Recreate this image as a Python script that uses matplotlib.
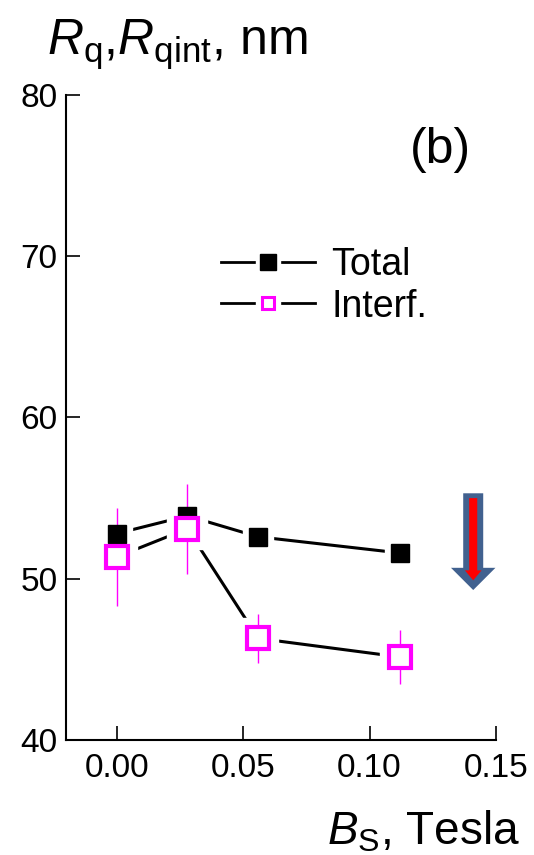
import numpy as np
import matplotlib
matplotlib.use("Agg")
import matplotlib.pyplot as plt
from matplotlib.lines import Line2D
from matplotlib.legend_handler import HandlerTuple

plt.rcParams['font.family'] = ['Liberation Sans', 'DejaVu Sans']
plt.rcParams['mathtext.fontset'] = 'custom'
plt.rcParams['mathtext.rm'] = 'Liberation Sans'
plt.rcParams['mathtext.it'] = 'Liberation Sans:italic'

# field values, Tesla
b_field = [0.0, 0.028, 0.056, 0.112]
# total roughness Rq, nm
rq_total = [52.8, 53.9, 52.6, 51.6]
# interference part Rqint, nm, with error
rq_interf = [51.35, 53.1, 46.3, 45.15]
rq_interf_err = [3.05, 2.8, 1.5, 1.65]

x_ticks = [0.00, 0.05, 0.10, 0.15]
x_ticklabels = ["0.00", "0.05", "0.10", "0.15"]
y_ticks = [40, 50, 60, 70, 80]

magenta = '#ff00ff'

fig = plt.figure(figsize=(5.34, 8.55), dpi=100)
ax = fig.add_axes([0.1236, 0.1345, 0.8052, 0.7544])

# lines first, then white gaps round the markers, then markers
ax.plot(b_field, rq_total, color='black', lw=2.2, zorder=2)
ax.plot(b_field, rq_interf, color='black', lw=2.2, zorder=2)
ax.plot(b_field, rq_total, ls='none', marker='s', ms=21, mfc='white', mec='white', zorder=3)
ax.plot(b_field, rq_interf, ls='none', marker='s', ms=29, mfc='white', mec='white', zorder=3)
ax.errorbar(b_field, rq_interf, yerr=rq_interf_err, fmt='none', ecolor=magenta,
            elinewidth=1.0, capsize=0, zorder=4)
ax.plot(b_field, rq_total, ls='none', marker='s', ms=13, mfc='black', mec='black', zorder=5)
ax.plot(b_field, rq_interf, ls='none', marker='s', ms=16.5, mfc='white', mec=magenta,
        mew=3.0, zorder=6)

ax.set_xlim(-0.02, 0.15)
ax.set_ylim(40, 80)
ax.set_xticks(x_ticks)
ax.set_xticklabels(x_ticklabels, fontsize=24)
ax.set_yticks(y_ticks)
ax.set_yticklabels([str(v) for v in y_ticks], fontsize=24)
ax.tick_params(direction='in', length=10, width=1.2)
ax.tick_params(axis='y', pad=6)
ax.tick_params(axis='x', pad=9)
for side in ['top', 'right']:
    ax.spines[side].set_visible(False)
for side in ['left', 'bottom']:
    ax.spines[side].set_linewidth(1.5)

# legend with gaps around the markers
h_total = (Line2D([], [], color='black', lw=2.0),
           Line2D([], [], ls='none', marker='s', ms=17, mfc='white', mec='white'),
           Line2D([], [], ls='none', marker='s', ms=11, mfc='black', mec='black'))
h_interf = (Line2D([], [], color='black', lw=2.0),
            Line2D([], [], ls='none', marker='s', ms=17, mfc='white', mec='white'),
            Line2D([], [], ls='none', marker='s', ms=8, mfc='white', mec=magenta, mew=2.2))
fig.legend([h_total, h_interf], ['Total', 'Interf.'],
           handler_map={tuple: HandlerTuple(ndivide=1, pad=0)},
           loc='upper left', bbox_to_anchor=(221 / 534, 1 - 247 / 855),
           frameon=False, fontsize=27, handlelength=2.5, handletextpad=0.45,
           labelspacing=0.15, borderpad=0, borderaxespad=0)

ax.text(0.128, 76.6, '(b)', fontsize=36, ha='center', va='center')

# downward arrow
ax.annotate('', xy=(0.141, 49.3), xytext=(0.141, 55.3),
            arrowprops=dict(arrowstyle='simple,head_length=0.8,head_width=1.6,tail_width=0.72',
                            fc='#41618f', ec='none', shrinkA=0, shrinkB=0, mutation_scale=20))
ax.annotate('', xy=(0.141, 49.9), xytext=(0.141, 55.0),
            arrowprops=dict(arrowstyle='simple,head_length=0.36,head_width=0.6,tail_width=0.29',
                            fc='red', ec='none', shrinkA=0, shrinkB=0, mutation_scale=20))

fig.text(47 / 534, 1 - 55 / 855, r'$R_\mathrm{q}$,$R_\mathrm{qint}$, nm', fontsize=36,
         ha='left', va='baseline')
fig.text(520 / 534, 1 - 844 / 855, r'$B_\mathrm{S}$, Tesla', fontsize=33,
         ha='right', va='baseline')

fig.savefig('out.png', dpi=100)
